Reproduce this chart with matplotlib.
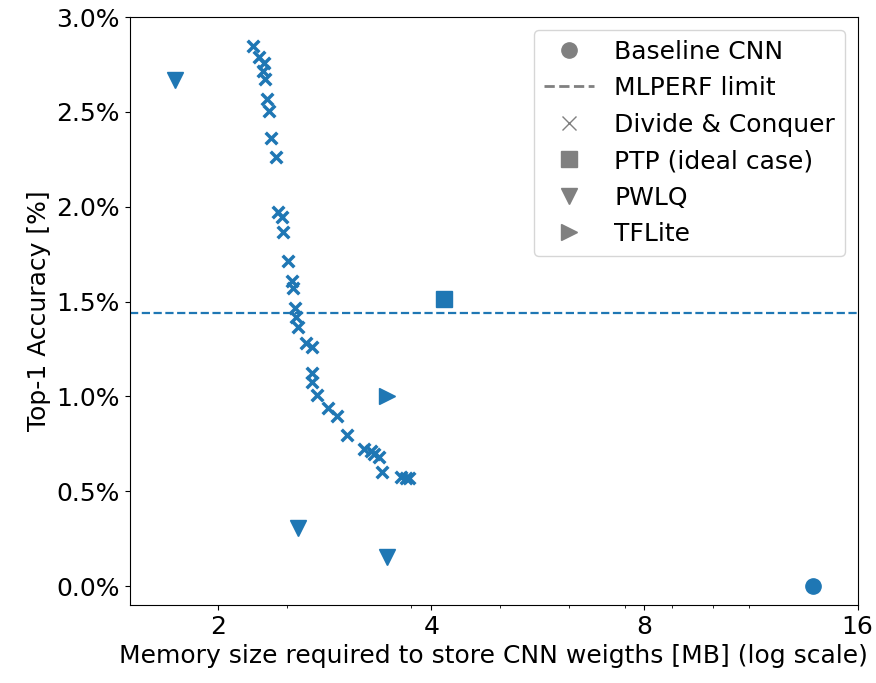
import matplotlib
matplotlib.use("Agg")
import matplotlib.pyplot as plt
from matplotlib.lines import Line2D
from matplotlib.ticker import FuncFormatter, FixedLocator

# Datos (memoria en MB, error top-1 en %)
dc_mem = [2.241, 2.285, 2.322, 2.315, 2.330, 2.345, 2.360, 2.375, 2.414,
          2.430, 2.462, 2.470, 2.510, 2.543, 2.552, 2.568, 2.576, 2.593,
          2.661, 2.713, 2.713, 2.713, 2.758, 2.858, 2.943, 3.040, 3.213,
          3.287, 3.319, 3.373, 3.406, 3.623, 3.682, 3.718]
dc_acc = [2.847, 2.789, 2.757, 2.715, 2.673, 2.567, 2.504, 2.362, 2.261,
          1.972, 1.945, 1.866, 1.713, 1.608, 1.571, 1.466, 1.418, 1.365,
          1.281, 1.260, 1.123, 1.075, 1.007, 0.938, 0.896, 0.796, 0.722,
          0.712, 0.696, 0.680, 0.601, 0.575, 0.569, 0.569]

baseline_mem = [13.85]
baseline_acc = [0.0]
ptp_mem = [4.166]
ptp_acc = [1.513]
pwlq_mem = [1.739, 2.593, 3.462]
pwlq_acc = [2.667, 0.306, 0.153]
tflite_mem = [3.462]
tflite_acc = [1.002]
mlperf_limit = 1.439

x_ticks = [2, 4, 8, 16]
x_minor = [2.5, 3.75, 5, 6.25, 7.5, 8.75, 10, 11.25]

plt.rcParams['font.size'] = 18

fig = plt.figure(figsize=(8.76, 6.83), dpi=100)
ax = fig.add_axes([0.148, 0.114, 0.831, 0.861])

c = 'C0'
ax.plot(baseline_mem, baseline_acc, 'o', color=c, markersize=11)
ax.axhline(mlperf_limit, color=c, linestyle='--', linewidth=1.6)
ax.scatter(dc_mem, dc_acc, marker='x', color=c, s=70, linewidths=2.5)
ax.plot(ptp_mem, ptp_acc, 's', color=c, markersize=11)
ax.plot(pwlq_mem, pwlq_acc, 'v', color=c, markersize=12)
ax.plot(tflite_mem, tflite_acc, '>', color=c, markersize=12)

ax.set_xscale('log', base=2)
ax.set_xlim(1.5, 16)
ax.set_ylim(-0.1, 3.0)
ax.xaxis.set_major_locator(FixedLocator(x_ticks))
ax.xaxis.set_minor_locator(FixedLocator(x_minor))
ax.xaxis.set_major_formatter(FuncFormatter(lambda v, p: f"{v:g}"))
ax.xaxis.set_minor_formatter(FuncFormatter(lambda v, p: ""))
ax.yaxis.set_major_formatter(FuncFormatter(lambda v, p: f"{v:.1f}%"))

ax.set_xlabel('Memory size required to store CNN weigths [MB] (log scale)')
ax.set_ylabel('Top-1 Accuracy [%]')

g = 'gray'
handles = [
    Line2D([], [], marker='o', linestyle='', color=g, markersize=11),
    Line2D([], [], linestyle='--', color=g, linewidth=2),
    Line2D([], [], marker='x', linestyle='', color=g, markersize=10),
    Line2D([], [], marker='s', linestyle='', color=g, markersize=11),
    Line2D([], [], marker='v', linestyle='', color=g, markersize=12),
    Line2D([], [], marker='>', linestyle='', color=g, markersize=12),
]
labels = ['Baseline CNN', 'MLPERF limit', 'Divide & Conquer',
          'PTP (ideal case)', 'PWLQ', 'TFLite']
ax.legend(handles, labels, loc='upper right')

fig.savefig('out.png', dpi=100)
